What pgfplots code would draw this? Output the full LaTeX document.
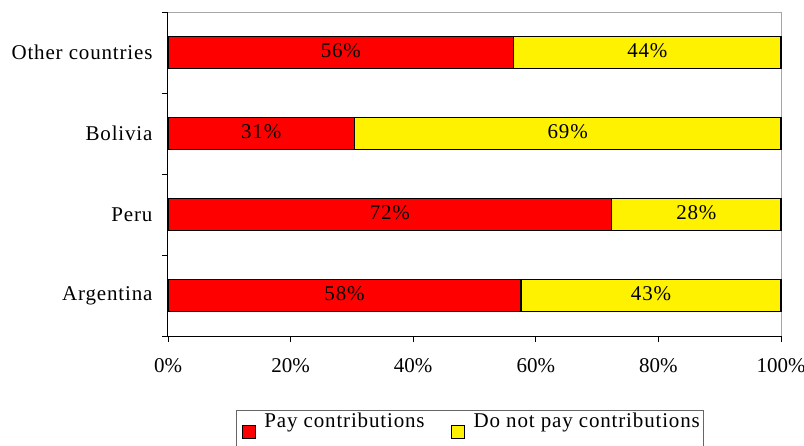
\documentclass[border=0pt]{standalone}
\usepackage{pgfplots}
\pgfplotsset{compat=1.18}
\usepackage{fontspec}
\setmainfont{Liberation Serif}[LetterSpace=4]
\newfontfamily\plainfont{Liberation Serif}
\pgfplotsset{legsq/.style={legend image code/.code={\path[draw=none, fill=none] (0pt,0pt) rectangle (24pt,0pt);\draw[##1] (4pt,-10pt) rectangle (17pt,3pt);}}}
\begin{document}
\begin{tikzpicture}
\begin{axis}[name=ax, scale only axis, width=613pt, height=324pt,
 xmin=0, xmax=100, ymin=-0.5, ymax=3.5,
 axis x line*=bottom, axis y line*=left,
 axis line style={line width=1pt, black},
 xtick={0,20,40,60,80,100}, xticklabels={0\%,20\%,40\%,60\%,80\%,100\%},
 ytick={0,1,2,3}, yticklabels={Argentina,Peru,Bolivia,Other countries},
 minor ytick={-0.5,0.5,1.5,2.5,3.5},
 major y tick style={draw=none},
 tick align=outside, major tick length=6pt, minor tick length=6pt,
 tick style={black, line width=0.8pt},
 yticklabel style={xshift=-6pt, font=\fontsize{21}{25}\selectfont},
 xticklabel style={yshift=-13pt, font=\plainfont\fontsize{21}{25}\selectfont},
 clip=false,
 legend columns=2,
 legend style={at={(0.111,-0.228)}, anchor=north west, draw=black!60, line width=0.8pt,
   font=\fontsize{21}{25}\selectfont, inner ysep=1pt, inner xsep=2pt,
   /tikz/every even column/.append style={column sep=21pt},
   nodes={inner sep=2pt, text depth=16pt}},
]
\draw[gray!70, line width=1pt] (rel axis cs:0,1) -- (rel axis cs:1,1) -- (rel axis cs:1,0);
\addplot[xbar, bar shift=0pt, bar width=32pt, fill=yellow, draw=black, line width=1.2pt, forget plot]
  coordinates {(100,0) (100,1) (100,2) (100,3)};
\addplot[xbar, bar shift=0pt, bar width=32pt, fill=red, draw=black, line width=1.2pt, forget plot]
  coordinates {(57.6,0) (72.4,1) (30.4,2) (56.4,3)};
\addplot[only marks, mark=text, text mark={}, forget plot,
  nodes near coords, point meta=explicit symbolic,
  every node near coord/.append style={anchor=center, font=\fontsize{21}{25}\selectfont, text=black, yshift=2pt}]
  coordinates {(28.8,0) [58\%] (36.2,1) [72\%] (15.2,2) [31\%] (28.2,3) [56\%]
               (78.8,0) [43\%] (86.2,1) [28\%] (65.2,2) [69\%] (78.2,3) [44\%]};
\addlegendimage{legsq, fill=red, draw=black, line width=1.2pt}
\addlegendentry{Pay contributions}
\addlegendimage{legsq, fill=yellow, draw=black, line width=1.2pt}
\addlegendentry{Do not pay contributions}
\end{axis}
\pgfresetboundingbox
\useasboundingbox ([xshift=-168pt,yshift=-109pt]ax.south west) rectangle ([xshift=23pt,yshift=12pt]ax.north east);
\end{tikzpicture}
\end{document}
